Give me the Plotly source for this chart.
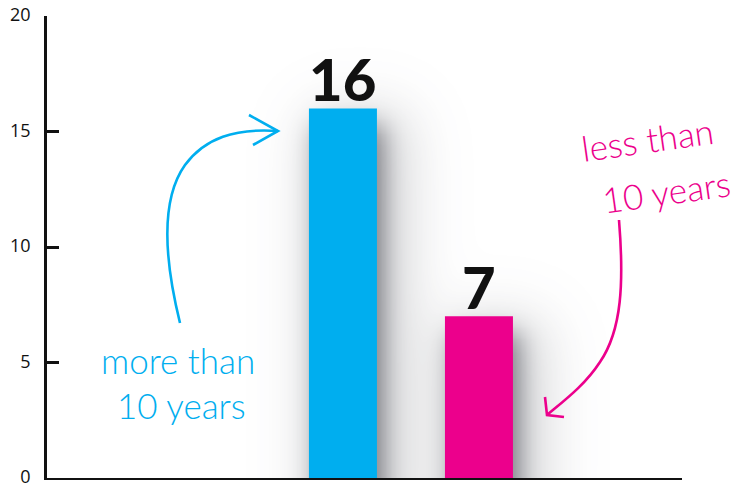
import math
import plotly.graph_objects as go

# Data
categories = ["more than 10 years", "less than 10 years"]
values = [16, 7]
bar_colors = ["#00AEEF", "#EC008C"]
y_ticks = [0, 5, 10, 15, 20]

# Canvas and plot-area geometry (pixels)
W, H = 751, 489
L, R, T, B = 47, 69, 16, 11
PW, PH = W - L - R, H - T - B
X_RANGE = [-2.176, 2.493]
Y_RANGE = [-0.002, 20.002]
BAR_WIDTH = 0.5

px_per_x = PW / (X_RANGE[1] - X_RANGE[0])
px_per_y = PH / (Y_RANGE[1] - Y_RANGE[0])


def cat_to_px(xv):
    return L + (xv - X_RANGE[0]) * px_per_x


def val_to_px(yv):
    return H - B - (yv - Y_RANGE[0]) * px_per_y


def paper(px, py):
    """Pixel position on the canvas -> paper coordinates."""
    return (px - L) / PW, (H - B - py) / PH


def path_from_pixels(cmds):
    out = []
    for c in cmds:
        if isinstance(c, str):
            out.append(c)
        else:
            x, y = paper(*c)
            out.append(f"{x:.5f},{y:.5f}")
    return " ".join(out)


def soft_box(x, y, x0, x1, y0, y1, sigma):
    """Gaussian-blurred rectangle profile (0..1) at pixel (x, y)."""
    s = sigma * math.sqrt(2)
    fx = 0.5 * (math.erf((x - x0) / s) - math.erf((x - x1) / s))
    fy = 0.5 * (math.erf((y - y0) / s) - math.erf((y - y1) / s))
    return fx * fy


# Soft drop shadow field behind the bars
grid_x = [L + 2.5 * k for k in range(int(PW / 2.5) + 2)]
grid_y = [Y_RANGE[0] + 0.12 * k for k in range(int((Y_RANGE[1] - Y_RANGE[0]) / 0.12) + 2)]
bar_boxes = []
for i, v in enumerate(values):
    bx0 = cat_to_px(i - BAR_WIDTH / 2)
    bx1 = cat_to_px(i + BAR_WIDTH / 2)
    by = val_to_px(v)
    bar_boxes.append((bx0, bx1, by))

shadow_z = []
for gy in grid_y:
    py = val_to_px(gy)
    row = []
    for gx in grid_x:
        s = 0.0
        for bx0, bx1, by in bar_boxes:
            s += 0.48 * soft_box(gx, py, bx0 + 6, bx1 + 6, by + 16, H + 40, 12)
            s += 0.22 * soft_box(gx, py, bx0 + 2, bx1 + 30, by + 4, H + 60, 28)
        row.append(min(s, 0.75))
    shadow_z.append(row)

fig = go.Figure()

# Shadow lives on the base (pixel-scaled) x axis, bars on the overlaid category axis
fig.add_trace(go.Heatmap(
    x=grid_x, y=grid_y, z=shadow_z, xaxis="x", yaxis="y",
    zmin=0, zmax=1, zsmooth="best", showscale=False, hoverinfo="skip",
    colorscale=[[0, "rgba(60,62,72,0)"], [1, "rgba(60,62,72,1)"]],
))

fig.add_trace(go.Bar(
    x=categories,
    y=values,
    xaxis="x2", yaxis="y",
    width=BAR_WIDTH,
    marker=dict(color=bar_colors, line=dict(width=0)),
    hoverinfo="skip",
))

# Hand-drawn style arrows
blue_arrow = path_from_pixels([
    "M", (180, 323), "C", (165, 262), (160, 200), (185, 165),
    "C", (205, 138), (235, 128), (278, 131),
])
blue_head = path_from_pixels(["M", (249, 115), "L", (278, 131), "L", (253, 145)])
pink_arrow = path_from_pixels([
    "M", (619, 220), "C", (624, 282), (622, 330), (600, 362),
    "C", (585, 385), (565, 400), (547, 415),
])
pink_head = path_from_pixels(["M", (545, 397), "L", (547, 415), "L", (564, 417)])

shapes = []
for p, col in [(blue_arrow, bar_colors[0]), (blue_head, bar_colors[0]),
               (pink_arrow, bar_colors[1]), (pink_head, bar_colors[1])]:
    shapes.append(dict(type="path", xref="paper", yref="paper", path=p,
                       line=dict(color=col, width=2.6), layer="above"))

# Value labels sitting on top of each bar
annotations = []
for cat, v in zip(categories, values):
    annotations.append(dict(
        x=cat, y=v, xref="x2", yref="y", text=str(v), showarrow=False,
        xanchor="center", yanchor="bottom", yshift=-7,
        font=dict(family="Lato", size=58, color="#111111", weight=900),
    ))

hand_font = dict(family="Lato", size=35, weight=300)
for txt, (px, py), col, ang in [
    ("more than", (178, 360), bar_colors[0], 0),
    ("10 years", (181, 405), bar_colors[0], 0),
    ("less than", (647, 139), bar_colors[1], -8),
    ("10 years", (666, 191), bar_colors[1], -8),
]:
    ax, ay = paper(px, py)
    annotations.append(dict(
        x=ax, y=ay, xref="paper", yref="paper", text=txt, showarrow=False,
        textangle=ang, xanchor="center", yanchor="middle",
        font=dict(hand_font, color=col),
    ))

fig.update_layout(
    width=W, height=H,
    margin=dict(l=L, r=R, t=T, b=B, pad=0, autoexpand=False),
    paper_bgcolor="white", plot_bgcolor="white",
    showlegend=False,
    shapes=shapes,
    annotations=annotations,
    xaxis=dict(
        range=[L, W - R], showgrid=False, zeroline=False,
        showticklabels=False, ticks="", showline=True, linecolor="#111111",
        linewidth=2, fixedrange=True, automargin=False,
    ),
    xaxis2=dict(
        type="category", overlaying="x", anchor="y", range=X_RANGE,
        visible=False, fixedrange=True, automargin=False,
    ),
    yaxis=dict(
        range=Y_RANGE, tickvals=y_ticks, ticktext=[str(t) for t in y_ticks],
        showgrid=False, zeroline=False, showline=True, linecolor="#111111",
        linewidth=2.5, ticks="inside", ticklen=12, tickwidth=2.5,
        tickcolor="#111111", ticklabelstandoff=10, ticklabelshift=-1,
        ticklabeloverflow="allow", automargin=False,
        tickfont=dict(family="Open Sans", size=18, color="#111111"),
        fixedrange=True,
    ),
)

fig.write_html("out.html")
